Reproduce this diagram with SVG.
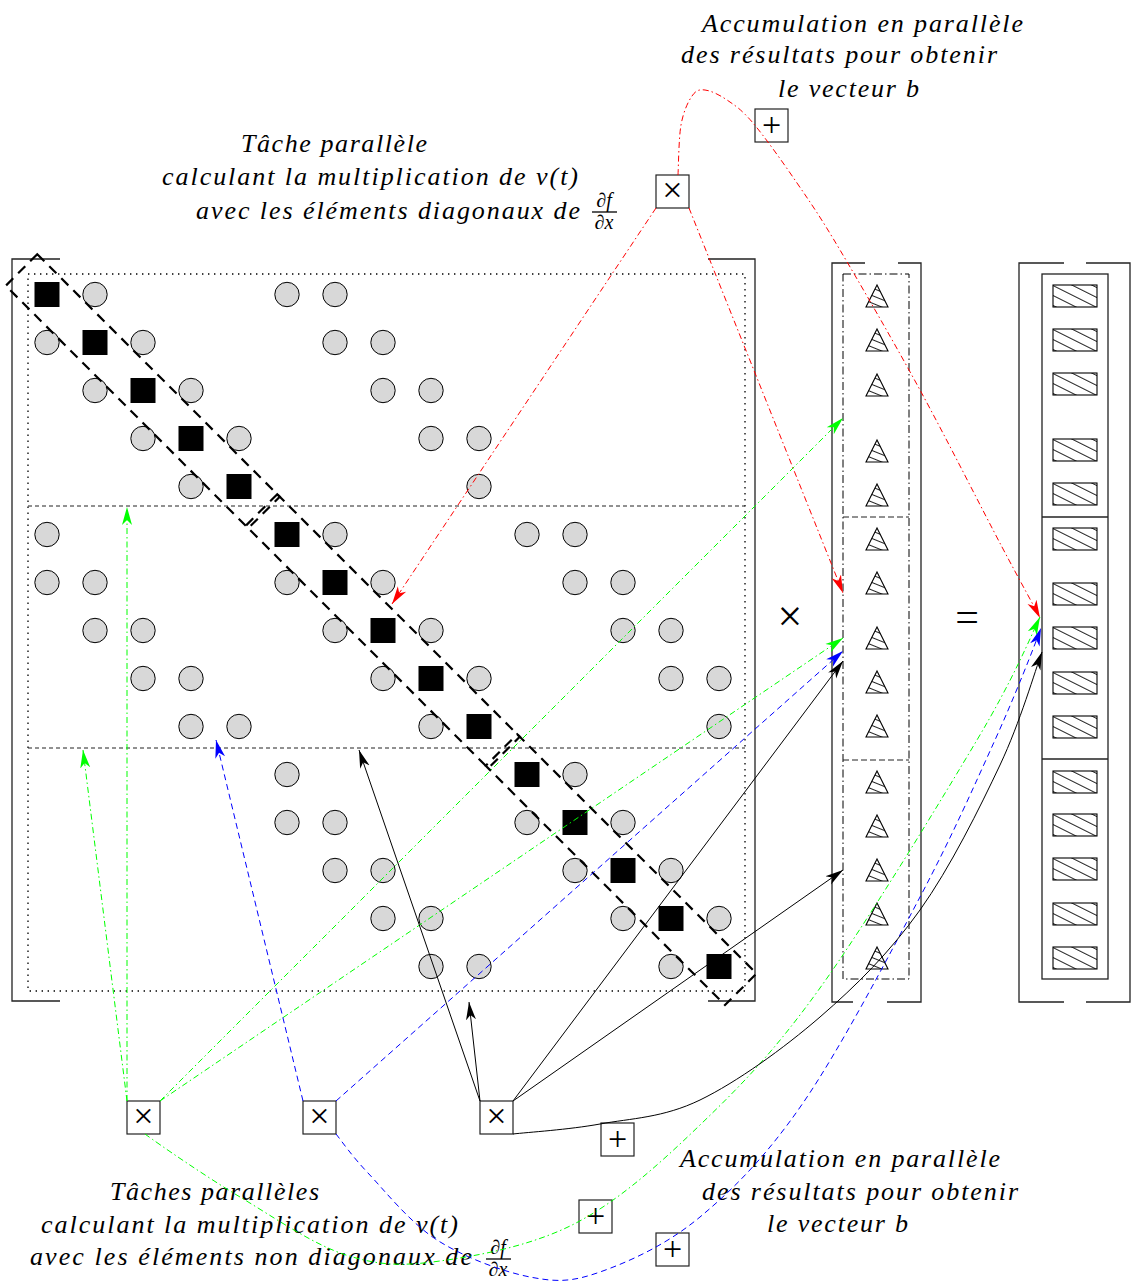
<svg xmlns="http://www.w3.org/2000/svg" xmlns:xlink="http://www.w3.org/1999/xlink" width="1131" height="1282" viewBox="0 0 1131 1282">
<style>
.c{fill:#d8d8d8;stroke:#000;stroke-width:1}
.sq{fill:#000}
.band{fill:none;stroke:#000;stroke-width:2.2;stroke-dasharray:10 7}
.brk{fill:none;stroke:#222;stroke-width:1.3}
.dot{fill:none;stroke:#000;stroke-width:1.3;stroke-dasharray:1.4 4.6}
.div{fill:none;stroke:#222;stroke-width:1;stroke-dasharray:4 3}
.dd{fill:none;stroke:#000;stroke-width:1;stroke-dasharray:8 3 1.5 3}
.sol{fill:none;stroke:#222;stroke-width:1.3}
.tri{fill:url(#htri);stroke:#000;stroke-width:1.1}
.hr{fill:url(#hrect);stroke:#000;stroke-width:1.1}
.box{fill:none;stroke:#222;stroke-width:1.2}
.op{font-family:"Liberation Serif",serif;fill:#000;text-anchor:middle}
.lbl{font-family:"Liberation Serif",serif;font-style:italic;font-size:26px;fill:#000}
.frac{font-family:"Liberation Serif",serif;font-style:italic;font-size:20px;fill:#000;text-anchor:middle}
.bar{stroke:#000;stroke-width:1.3}
.red{fill:none;stroke:#f00;stroke-width:1;stroke-dasharray:6 3 1.5 3}
.grn{fill:none;stroke:#0f0;stroke-width:1;stroke-dasharray:6 3 1.5 3}
.blu{fill:none;stroke:#00f;stroke-width:1;stroke-dasharray:6 4}
.blk{fill:none;stroke:#000;stroke-width:1}
</style>
<defs>
<pattern id="hrect" width="10" height="8.9" patternUnits="userSpaceOnUse" patternTransform="rotate(26.57)">
<line x1="0" y1="0.5" x2="10" y2="0.5" stroke="#222" stroke-width="1"/>
</pattern>
<pattern id="htri" width="10" height="7" patternUnits="userSpaceOnUse" patternTransform="rotate(22)">
<line x1="0" y1="0.5" x2="10" y2="0.5" stroke="#222" stroke-width="1"/>
</pattern>
<polygon id="tri" points="11,0 0,22 22,22"/>
<rect id="hb" width="44" height="22"/>
<marker id="aR" markerWidth="20" markerHeight="12" refX="18" refY="6" orient="auto" markerUnits="userSpaceOnUse"><path d="M0,1 L18,6 L0,11 L5,6 Z" fill="#f00"/></marker>
<marker id="aG" markerWidth="20" markerHeight="12" refX="18" refY="6" orient="auto" markerUnits="userSpaceOnUse"><path d="M0,1 L18,6 L0,11 L5,6 Z" fill="#0f0"/></marker>
<marker id="aB" markerWidth="20" markerHeight="12" refX="18" refY="6" orient="auto" markerUnits="userSpaceOnUse"><path d="M0,1 L18,6 L0,11 L5,6 Z" fill="#00f"/></marker>
<marker id="aK" markerWidth="20" markerHeight="12" refX="18" refY="6" orient="auto" markerUnits="userSpaceOnUse"><path d="M0,1 L18,6 L0,11 L5,6 Z" fill="#000"/></marker>
</defs>
<rect width="1131" height="1282" fill="#fff"/>

<g id="matrix">
<path class="brk" d="M60,259 H12 V1001 H60"/>
<path class="brk" d="M708,259 H755 V1001 H708"/>
<rect class="dot" x="28" y="274" width="717" height="717"/>
<line class="div" x1="28" y1="506" x2="745" y2="506"/>
<line class="div" x1="28" y1="748" x2="745" y2="748"/>
<g id="offdiag">
<circle class="c" cx="95" cy="294.5" r="12.2"/><circle class="c" cx="287" cy="294.5" r="12.2"/><circle class="c" cx="335" cy="294.5" r="12.2"/>
<circle class="c" cx="47" cy="342.5" r="12.2"/><circle class="c" cx="143" cy="342.5" r="12.2"/><circle class="c" cx="335" cy="342.5" r="12.2"/><circle class="c" cx="383" cy="342.5" r="12.2"/>
<circle class="c" cx="95" cy="390.5" r="12.2"/><circle class="c" cx="191" cy="390.5" r="12.2"/><circle class="c" cx="383" cy="390.5" r="12.2"/><circle class="c" cx="431" cy="390.5" r="12.2"/>
<circle class="c" cx="143" cy="438.5" r="12.2"/><circle class="c" cx="239" cy="438.5" r="12.2"/><circle class="c" cx="431" cy="438.5" r="12.2"/><circle class="c" cx="479" cy="438.5" r="12.2"/>
<circle class="c" cx="191" cy="486.5" r="12.2"/><circle class="c" cx="479" cy="486.5" r="12.2"/>
<circle class="c" cx="47" cy="534.5" r="12.2"/><circle class="c" cx="335" cy="534.5" r="12.2"/><circle class="c" cx="527" cy="534.5" r="12.2"/><circle class="c" cx="575" cy="534.5" r="12.2"/>
<circle class="c" cx="47" cy="582.5" r="12.2"/><circle class="c" cx="95" cy="582.5" r="12.2"/><circle class="c" cx="287" cy="582.5" r="12.2"/><circle class="c" cx="383" cy="582.5" r="12.2"/><circle class="c" cx="575" cy="582.5" r="12.2"/><circle class="c" cx="623" cy="582.5" r="12.2"/>
<circle class="c" cx="95" cy="630.5" r="12.2"/><circle class="c" cx="143" cy="630.5" r="12.2"/><circle class="c" cx="335" cy="630.5" r="12.2"/><circle class="c" cx="431" cy="630.5" r="12.2"/><circle class="c" cx="623" cy="630.5" r="12.2"/><circle class="c" cx="671" cy="630.5" r="12.2"/>
<circle class="c" cx="143" cy="678.5" r="12.2"/><circle class="c" cx="191" cy="678.5" r="12.2"/><circle class="c" cx="383" cy="678.5" r="12.2"/><circle class="c" cx="479" cy="678.5" r="12.2"/><circle class="c" cx="671" cy="678.5" r="12.2"/><circle class="c" cx="719" cy="678.5" r="12.2"/>
<circle class="c" cx="191" cy="726.5" r="12.2"/><circle class="c" cx="239" cy="726.5" r="12.2"/><circle class="c" cx="431" cy="726.5" r="12.2"/><circle class="c" cx="719" cy="726.5" r="12.2"/>
<circle class="c" cx="287" cy="774.5" r="12.2"/><circle class="c" cx="575" cy="774.5" r="12.2"/>
<circle class="c" cx="287" cy="822.5" r="12.2"/><circle class="c" cx="335" cy="822.5" r="12.2"/><circle class="c" cx="527" cy="822.5" r="12.2"/><circle class="c" cx="623" cy="822.5" r="12.2"/>
<circle class="c" cx="335" cy="870.5" r="12.2"/><circle class="c" cx="383" cy="870.5" r="12.2"/><circle class="c" cx="575" cy="870.5" r="12.2"/><circle class="c" cx="671" cy="870.5" r="12.2"/>
<circle class="c" cx="383" cy="918.5" r="12.2"/><circle class="c" cx="431" cy="918.5" r="12.2"/><circle class="c" cx="623" cy="918.5" r="12.2"/><circle class="c" cx="719" cy="918.5" r="12.2"/>
<circle class="c" cx="431" cy="966.5" r="12.2"/><circle class="c" cx="479" cy="966.5" r="12.2"/><circle class="c" cx="671" cy="966.5" r="12.2"/>
</g>
<g id="diag">
<rect class="sq" x="34.5" y="282" width="25" height="25"/>
<rect class="sq" x="82.5" y="330" width="25" height="25"/>
<rect class="sq" x="130.5" y="378" width="25" height="25"/>
<rect class="sq" x="178.5" y="426" width="25" height="25"/>
<rect class="sq" x="226.5" y="474" width="25" height="25"/>
<rect class="sq" x="274.5" y="522" width="25" height="25"/>
<rect class="sq" x="322.5" y="570" width="25" height="25"/>
<rect class="sq" x="370.5" y="618" width="25" height="25"/>
<rect class="sq" x="418.5" y="666" width="25" height="25"/>
<rect class="sq" x="466.5" y="714" width="25" height="25"/>
<rect class="sq" x="514.5" y="762" width="25" height="25"/>
<rect class="sq" x="562.5" y="810" width="25" height="25"/>
<rect class="sq" x="610.5" y="858" width="25" height="25"/>
<rect class="sq" x="658.5" y="906" width="25" height="25"/>
<rect class="sq" x="706.5" y="954" width="25" height="25"/>
</g>
<g id="diag-bands">
<polygon class="band" points="37.25,254.25 279.75,496.75 248.25,528.25 5.75,285.75"/>
<polygon class="band" points="277.25,494.25 519.75,736.75 488.25,768.25 245.75,525.75"/>
<polygon class="band" points="517.25,734.25 756.5,973.5 725,1005 485.75,765.75"/>
</g>
</g>

<g id="op-times"><text class="op" x="790" y="631" font-size="44">×</text></g>

<g id="vector-v">
<path class="brk" d="M865,263 H832 V1002 H853"/>
<path class="brk" d="M898,263 H921 V1002 H887"/>
<rect class="dd" x="843" y="274" width="66" height="705"/>
<line class="div" x1="843" y1="517" x2="909" y2="517" style="stroke-dasharray:6 3"/>
<line class="div" x1="843" y1="760" x2="909" y2="760" style="stroke-dasharray:6 3"/>
<use xlink:href="#tri" class="tri" x="866" y="285"/>
<use xlink:href="#tri" class="tri" x="866" y="329"/>
<use xlink:href="#tri" class="tri" x="866" y="374"/>
<use xlink:href="#tri" class="tri" x="866" y="440"/>
<use xlink:href="#tri" class="tri" x="866" y="484"/>
<use xlink:href="#tri" class="tri" x="866" y="528"/>
<use xlink:href="#tri" class="tri" x="866" y="572"/>
<use xlink:href="#tri" class="tri" x="866" y="627"/>
<use xlink:href="#tri" class="tri" x="866" y="671"/>
<use xlink:href="#tri" class="tri" x="866" y="715"/>
<use xlink:href="#tri" class="tri" x="866" y="771"/>
<use xlink:href="#tri" class="tri" x="866" y="815"/>
<use xlink:href="#tri" class="tri" x="866" y="859"/>
<use xlink:href="#tri" class="tri" x="866" y="903"/>
<use xlink:href="#tri" class="tri" x="866" y="947"/>
</g>

<g id="op-equals"><text class="op" x="967" y="631" font-size="42">=</text></g>

<g id="vector-b">
<path class="brk" d="M1064,263 H1019 V1002 H1064"/>
<path class="brk" d="M1086,263 H1130 V1002 H1086"/>
<rect class="sol" x="1042" y="274" width="66" height="705"/>
<line class="sol" x1="1042" y1="517" x2="1108" y2="517"/>
<line class="sol" x1="1042" y1="759" x2="1108" y2="759"/>
<use xlink:href="#hb" class="hr" x="1053" y="285"/>
<use xlink:href="#hb" class="hr" x="1053" y="329"/>
<use xlink:href="#hb" class="hr" x="1053" y="373"/>
<use xlink:href="#hb" class="hr" x="1053" y="439"/>
<use xlink:href="#hb" class="hr" x="1053" y="483"/>
<use xlink:href="#hb" class="hr" x="1053" y="528"/>
<use xlink:href="#hb" class="hr" x="1053" y="583"/>
<use xlink:href="#hb" class="hr" x="1053" y="627"/>
<use xlink:href="#hb" class="hr" x="1053" y="672"/>
<use xlink:href="#hb" class="hr" x="1053" y="716"/>
<use xlink:href="#hb" class="hr" x="1053" y="771"/>
<use xlink:href="#hb" class="hr" x="1053" y="814"/>
<use xlink:href="#hb" class="hr" x="1053" y="858"/>
<use xlink:href="#hb" class="hr" x="1053" y="903"/>
<use xlink:href="#hb" class="hr" x="1053" y="947"/>
</g>

<g id="label-diag">
<text class="lbl" x="241" y="152" textLength="186" lengthAdjust="spacing">Tâche parallèle</text>
<text class="lbl" x="162" y="185" textLength="416" lengthAdjust="spacing">calculant la multiplication de v(t)</text>
<text class="lbl" x="196" y="219" textLength="384" lengthAdjust="spacing">avec les éléments diagonaux de</text>
<text class="frac" x="604" y="207">∂f</text>
<line class="bar" x1="592" y1="212" x2="617" y2="212"/>
<text class="frac" x="604" y="229">∂x</text>
</g>
<g id="label-acc-top">
<text class="lbl" x="702" y="32" textLength="321" lengthAdjust="spacing">Accumulation en parallèle</text>
<text class="lbl" x="681" y="63" textLength="316" lengthAdjust="spacing">des résultats pour obtenir</text>
<text class="lbl" x="778" y="97" textLength="141" lengthAdjust="spacing">le vecteur b</text>
</g>
<g id="label-offdiag">
<text class="lbl" x="110" y="1200" textLength="209" lengthAdjust="spacing">Tâches parallèles</text>
<text class="lbl" x="41" y="1233" textLength="417" lengthAdjust="spacing">calculant la multiplication de v(t)</text>
<text class="lbl" x="30" y="1265" textLength="442" lengthAdjust="spacing">avec les éléments non diagonaux de</text>
<text class="frac" x="498" y="1254">∂f</text>
<line class="bar" x1="486" y1="1259" x2="511" y2="1259"/>
<text class="frac" x="498" y="1276">∂x</text>
</g>
<g id="label-acc-bottom">
<text class="lbl" x="680" y="1167" textLength="320" lengthAdjust="spacing">Accumulation en parallèle</text>
<text class="lbl" x="702" y="1200" textLength="316" lengthAdjust="spacing">des résultats pour obtenir</text>
<text class="lbl" x="767" y="1232" textLength="141" lengthAdjust="spacing">le vecteur b</text>
</g>

<g id="task-diag"><rect class="box" x="656" y="175" width="33" height="33"/><text class="op" x="672.5" y="202" font-size="36">×</text></g>
<g id="acc-top"><rect class="box" x="755" y="109" width="33" height="33"/><text class="op" x="771.5" y="136" font-size="34">+</text></g>
<g id="task-nd1"><rect class="box" x="127" y="1101" width="33" height="33"/><text class="op" x="143.5" y="1128" font-size="36">×</text></g>
<g id="task-nd2"><rect class="box" x="303" y="1101" width="33" height="33"/><text class="op" x="319.5" y="1128" font-size="36">×</text></g>
<g id="task-nd3"><rect class="box" x="480" y="1101" width="33" height="33"/><text class="op" x="496.5" y="1128" font-size="36">×</text></g>
<g id="acc-1"><rect class="box" x="601" y="1123" width="33" height="33"/><text class="op" x="617.5" y="1150" font-size="34">+</text></g>
<g id="acc-2"><rect class="box" x="579" y="1200" width="33" height="33"/><text class="op" x="595.5" y="1227" font-size="34">+</text></g>
<g id="acc-3"><rect class="box" x="656" y="1233" width="33" height="33"/><text class="op" x="672.5" y="1260" font-size="34">+</text></g>

<g id="connectors">
<line class="red" x1="656" y1="208" x2="392" y2="604" marker-end="url(#aR)"/>
<line class="red" x1="689" y1="208" x2="843" y2="593" marker-end="url(#aR)"/>
<path class="red" marker-end="url(#aR)" d="M678,175 C678.5,166.7 678.7,138.2 681,125 C683.3,111.8 688,101.8 692,96 C696,90.2 699.2,89.3 705,90 C710.8,90.7 719,94.5 727,100 C735,105.5 741.3,109.2 753,123 C764.7,136.8 782.5,161.8 797,183 C811.5,204.2 819.5,215.5 840,250 C860.5,284.5 893,340.5 920,390 C947,439.5 982,509.2 1002,547 C1022,584.8 1033.7,605.3 1040,618"/>

<line class="grn" x1="127" y1="1101" x2="127" y2="507" marker-end="url(#aG)"/>
<line class="grn" x1="127" y1="1101" x2="83" y2="750" marker-end="url(#aG)"/>
<line class="grn" x1="160" y1="1101" x2="843" y2="418" marker-end="url(#aG)"/>
<line class="grn" x1="160" y1="1101" x2="843" y2="638" marker-end="url(#aG)"/>
<path class="grn" marker-end="url(#aG)" d="M145,1134 C159.2,1144.5 206.2,1176.8 240,1197 C273.8,1217.2 312.7,1244.3 346,1255 C379.3,1265.7 401.7,1266.3 440,1261 C478.3,1255.7 532.7,1245.7 576,1223 C619.3,1200.3 659.3,1164.2 700,1125 C740.7,1085.8 773.8,1052.2 820,988 C866.2,923.8 940.2,801.8 977,740 C1013.8,678.2 1030.3,637.5 1040,617"/>

<line class="blu" x1="303" y1="1101" x2="216" y2="740" marker-end="url(#aB)"/>
<line class="blu" x1="336" y1="1101" x2="843" y2="651" marker-end="url(#aB)"/>
<path class="blu" marker-end="url(#aB)" d="M336,1134 C341.3,1140.5 351.2,1155.3 368,1173 C384.8,1190.7 410,1222.7 437,1240 C464,1257.3 502.8,1271.7 530,1277 C557.2,1282.3 571.7,1282 600,1272 C628.3,1262 666.2,1245.2 700,1217 C733.8,1188.8 766.3,1156.3 803,1103 C839.7,1049.7 888,957.5 920,897 C952,836.5 974.7,784.8 995,740 C1015.3,695.2 1034.2,646.7 1041,628"/>

<line class="blk" x1="480" y1="1101" x2="359" y2="750" marker-end="url(#aK)"/>
<line class="blk" x1="480" y1="1101" x2="469" y2="1002" marker-end="url(#aK)"/>
<line class="blk" x1="513" y1="1101" x2="843" y2="661" marker-end="url(#aK)"/>
<line class="blk" x1="513" y1="1101" x2="843" y2="870" marker-end="url(#aK)"/>
<path class="blk" marker-end="url(#aK)" d="M513,1134 C527.5,1132.3 568.8,1129.7 600,1124 C631.2,1118.3 663.3,1117.8 700,1100 C736.7,1082.2 783.3,1048.7 820,1017 C856.7,985.3 890,952 920,910 C950,868 979.7,808 1000,765 C1020.3,722 1035,670.8 1042,652"/>
</g>
</svg>
